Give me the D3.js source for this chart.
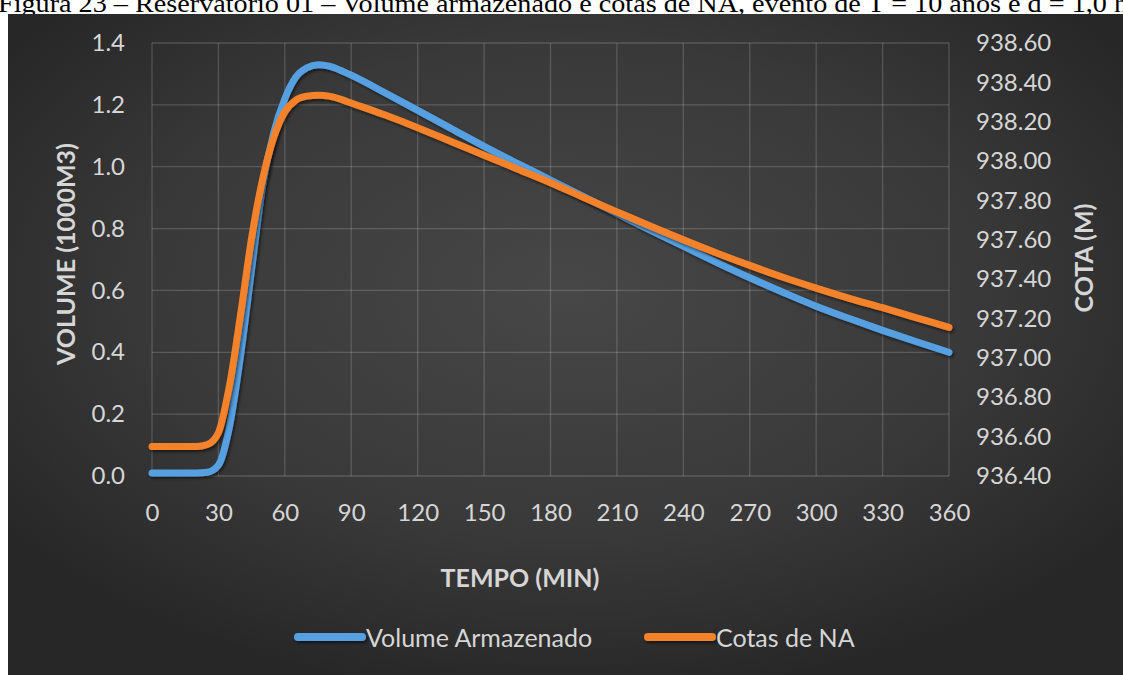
<!DOCTYPE html>
<html>
<head>
<meta charset="utf-8">
<script src="https://cdn.jsdelivr.net/npm/d3@7"></script>
<style>
  html, body { margin: 0; padding: 0; background: #ffffff; }
  svg { display: block; }
</style>
</head>
<body>
<svg id="chart" width="1123" height="675"></svg>
<script>
// Reservoir 01 storage and water-level series (time in minutes)
const tempo = [0, 5, 10, 15, 20, 25, 30, 35, 40, 45, 50, 55, 60, 65, 70, 75, 80, 85, 90,
  105, 120, 135, 150, 165, 180, 195, 210, 225, 240, 255, 270, 285, 300, 315, 330, 345, 360];
const volume = [0.01, 0.01, 0.01, 0.01, 0.01, 0.012, 0.035, 0.16, 0.39, 0.67, 0.94, 1.11, 1.22, 1.29, 1.32, 1.33, 1.325, 1.312, 1.296,
  1.24, 1.182, 1.124, 1.066, 1.011, 0.957, 0.903, 0.849, 0.795, 0.743, 0.691, 0.641, 0.594, 0.549, 0.509, 0.471, 0.435, 0.40];
const cota = [936.55, 936.55, 936.55, 936.55, 936.55, 936.56, 936.62, 936.86, 937.22, 937.61, 937.91, 938.12, 938.25, 938.31, 938.33, 938.335, 938.33, 938.315, 938.295,
  938.235, 938.17, 938.10, 938.03, 937.96, 937.89, 937.815, 937.742, 937.67, 937.60, 937.533, 937.47, 937.41, 937.355, 937.303, 937.255, 937.205, 937.155];

const xTicks = [0, 30, 60, 90, 120, 150, 180, 210, 240, 270, 300, 330, 360];
const volTicks = [0, 0.2, 0.4, 0.6, 0.8, 1.0, 1.2, 1.4];
const cotaTicks = [936.4, 936.6, 936.8, 937.0, 937.2, 937.4, 937.6, 937.8, 938.0, 938.2, 938.4, 938.6];

const seriesNames = ["Volume Armazenado", "Cotas de NA"];
const seriesColors = ["#57a0e2", "#f4822b"];
const caption = "Figura 23 – Reservatório 01 – Volume armazenado e cotas de NA, evento de T = 10 anos e d = 1,0 h";

const svg = d3.select("#chart");
const defs = svg.append("defs");

const bg = defs.append("radialGradient")
  .attr("id", "bgGrad").attr("cx", "0.5").attr("cy", "0.42").attr("r", "0.62");
bg.append("stop").attr("offset", "0").attr("stop-color", "#474747");
bg.append("stop").attr("offset", "0.6").attr("stop-color", "#393939");
bg.append("stop").attr("offset", "1").attr("stop-color", "#272727");

// soft shadow under the series strokes (region in page units so flat lines keep it)
const shadow = defs.append("filter").attr("id", "lineShadow")
  .attr("filterUnits", "userSpaceOnUse")
  .attr("x", 0).attr("y", 0).attr("width", 1123).attr("height", 675);
shadow.append("feDropShadow").attr("dx", 1.5).attr("dy", 2)
  .attr("stdDeviation", 1.4).attr("flood-color", "#000").attr("flood-opacity", 0.55);

// caption line above the chart
svg.append("text")
  .attr("x", -2).attr("y", 12)
  .attr("textLength", 1130).attr("lengthAdjust", "spacingAndGlyphs")
  .style("font-family", "'Liberation Serif', 'DejaVu Serif', serif")
  .style("font-size", "25px").style("fill", "#000")
  .text(caption);

// chart background
svg.append("rect").attr("x", 8).attr("y", 14).attr("width", 1115).attr("height", 661)
  .attr("fill", "url(#bgGrad)");

const x = d3.scaleLinear().domain([0, 360]).range([152, 949]);
const yL = d3.scaleLinear().domain([0, 1.4]).range([476, 43]);
const yR = d3.scaleLinear().domain([936.4, 938.6]).range([476, 43]);

// gridlines
const grid = svg.append("g").attr("stroke", "rgba(255,255,255,0.17)").attr("stroke-width", 1.3);
grid.selectAll("line.h").data(volTicks).join("line").attr("class", "h")
  .attr("x1", x(0)).attr("x2", x(360)).attr("y1", d => yL(d)).attr("y2", d => yL(d));
grid.selectAll("line.v").data(xTicks).join("line").attr("class", "v")
  .attr("x1", d => x(d)).attr("x2", d => x(d)).attr("y1", yL(1.4)).attr("y2", yL(0));

function styleAxis(g) {
  g.select(".domain").remove();
  g.selectAll(".tick line").remove();
  g.selectAll("text")
    .style("font-family", "Lato, 'Open Sans', sans-serif")
    .style("font-size", "24px")
    .style("fill", "#d6d6d6");
}

svg.append("g").attr("transform", `translate(0,${yL(0)})`)
  .call(d3.axisBottom(x).tickValues(xTicks).tickSize(0).tickPadding(28))
  .call(styleAxis);
svg.append("g").attr("transform", `translate(${x(0)},0)`)
  .call(d3.axisLeft(yL).tickValues(volTicks).tickFormat(d3.format(".1f")).tickSize(0).tickPadding(27))
  .call(styleAxis);
svg.append("g").attr("transform", `translate(${x(360)},0)`)
  .call(d3.axisRight(yR).tickValues(cotaTicks).tickFormat(d3.format(".2f")).tickSize(0).tickPadding(27))
  .call(styleAxis);

// axis titles
const titleStyle = s => s.style("font-family", "Lato, 'Open Sans', sans-serif")
  .style("font-size", "25px").style("font-weight", "bold").style("fill", "#d6d6d6")
  .attr("text-anchor", "middle").attr("dominant-baseline", "central");
svg.append("text").attr("transform", "translate(65,254) rotate(-90)").call(titleStyle).text("VOLUME (1000M3)");
svg.append("text").attr("transform", "translate(1083,258) rotate(-90)").call(titleStyle).text("COTA (M)");
svg.append("text").attr("x", 520).attr("y", 577).call(titleStyle).text("TEMPO (MIN)");

// series lines
const lineVol = d3.line().x((d, i) => x(tempo[i])).y(d => yL(d)).curve(d3.curveMonotoneX);
const lineCota = d3.line().x((d, i) => x(tempo[i])).y(d => yR(d)).curve(d3.curveMonotoneX);

svg.append("path").datum(volume).attr("d", lineVol)
  .attr("fill", "none").attr("stroke", seriesColors[0]).attr("stroke-width", 7)
  .attr("stroke-linejoin", "round").attr("stroke-linecap", "round")
  .attr("filter", "url(#lineShadow)");
svg.append("path").datum(cota).attr("d", lineCota)
  .attr("fill", "none").attr("stroke", seriesColors[1]).attr("stroke-width", 7)
  .attr("stroke-linejoin", "round").attr("stroke-linecap", "round")
  .attr("filter", "url(#lineShadow)");

// legend
const legendItems = [
  { name: seriesNames[0], color: seriesColors[0], x0: 298 },
  { name: seriesNames[1], color: seriesColors[1], x0: 648 }
];
const lg = svg.append("g");
legendItems.forEach(it => {
  lg.append("line").attr("x1", it.x0).attr("x2", it.x0 + 64).attr("y1", 637).attr("y2", 637)
    .attr("stroke", it.color).attr("stroke-width", 8).attr("stroke-linecap", "round")
    .attr("filter", "url(#lineShadow)");
  lg.append("text").attr("x", it.x0 + 68).attr("y", 637).attr("dominant-baseline", "central")
    .style("font-family", "Lato, 'Open Sans', sans-serif").style("font-size", "25px")
    .style("fill", "#d6d6d6").text(it.name);
});
</script>
</body>
</html>
